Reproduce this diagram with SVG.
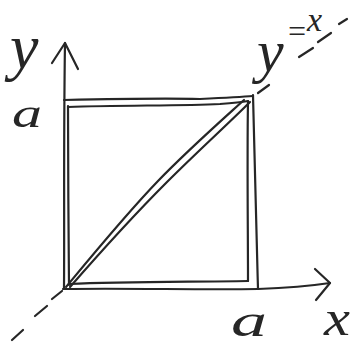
<svg xmlns="http://www.w3.org/2000/svg" width="352" height="347" viewBox="0 0 352 347">
  <style>
    .ln { fill: none; stroke: #262626; stroke-width: 2.2; stroke-linecap: round; stroke-linejoin: round; }
    .hand { font-family: "Liberation Serif", "DejaVu Serif", serif; font-style: italic; fill: #262626; }
  </style>
  <rect width="352" height="347" fill="#ffffff"/>
  <g id="axes">
    <path class="ln" d="M64,289 C64.5,220 63.5,140 65,43"/>
    <path class="ln" d="M52,63 L65,43 L78,69"/>
    <path class="ln" d="M63,289 C130,288 200,290 258,289 C285,288 310,286 330,283"/>
    <path class="ln" d="M315,269 L330,283 L316,300"/>
  </g>
  <g id="outer-square">
    <path class="ln" d="M64,100 C110,99 160,98 200,99 C220,98 240,97 253,96"/>
    <path class="ln" d="M253,95 C254,150 256,220 258,289"/>
  </g>
  <g id="inner-square">
    <path class="ln" d="M68,106 C68,160 68.5,230 69,285"/>
    <path class="ln" d="M68,107 C120,105 180,106 220,104 C232,103 242,102 248,101"/>
    <path class="ln" d="M248,101 C247,160 248,230 248,281"/>
    <path class="ln" d="M69,284 C120,282 180,282 248,281"/>
  </g>
  <g id="diagonal">
    <path class="ln" d="M66,287 C100,246 128,212 158,181 S222,120 244,100"/>
    <path class="ln" d="M70,287 C104,248 136,213 167,182 S228,124 250,102"/>
  </g>
  <g id="line-y-eq-x">
    <path class="ln" d="M52,299 L62,291"/>
    <path class="ln" d="M35,316 L47,306"/>
    <path class="ln" d="M12,340 L23,330"/>
    <path class="ln" d="M258,93 L269,85"/>
    <path class="ln" d="M299,57 L313,48"/>
    <path class="ln" d="M318,42 L331,33"/>
    <path class="ln" d="M339,24 L347,19"/>
  </g>
  <g id="labels">
    <text class="hand" x="10" y="68" font-size="64">y</text>
    <text class="hand" x="12" y="127" font-size="42" textLength="30" lengthAdjust="spacingAndGlyphs">a</text>
    <text class="hand" x="231" y="336" font-size="46" textLength="36" lengthAdjust="spacingAndGlyphs">a</text>
    <text class="hand" x="324" y="335" font-size="50" textLength="26" lengthAdjust="spacingAndGlyphs">x</text>
    <text class="hand" x="257" y="71" font-size="60">y<tspan x="286" y="42" font-size="32">=</tspan><tspan x="307" y="31" font-size="34">x</tspan></text>
  </g>
</svg>
